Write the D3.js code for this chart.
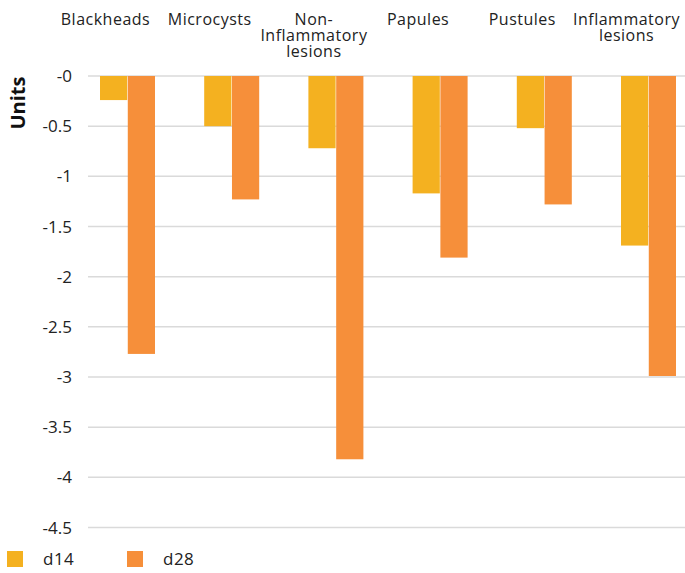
<!DOCTYPE html>
<html>
<head>
<meta charset="utf-8">
<script src="https://cdn.jsdelivr.net/npm/d3@7"></script>
<style>
  html, body { margin: 0; padding: 0; background: #fff; }
  svg { display: block; font-family: "Open Sans", "Noto Sans", sans-serif; }
</style>
</head>
<body>
<svg id="chart" width="685" height="573"></svg>
<script>
const categories = ["Blackheads", "Microcysts", "Non-Inflammatory lesions", "Papules", "Pustules", "Inflammatory lesions"];
const categoryLines = [["Blackheads"], ["Microcysts"], ["Non-", "Inflammatory", "lesions"], ["Papules"], ["Pustules"], ["Inflammatory", "lesions"]];
const seriesNames = ["d14", "d28"];
const d14 = [-0.24, -0.50, -0.72, -1.17, -0.52, -1.69];
const d28 = [-2.77, -1.23, -3.82, -1.81, -1.28, -2.99];
const tickValues = [0, -0.5, -1, -1.5, -2, -2.5, -3, -3.5, -4, -4.5];
const tickLabels = ["-0", "-0.5", "-1", "-1.5", "-2", "-2.5", "-3", "-3.5", "-4", "-4.5"];
const colors = ["#F4B120", "#F68F3A"];
const yTitle = "Units";

const svg = d3.select("#chart");
const seriesValues = [d14, d28];

const x = d3.scalePoint().domain(categories).range([127.5, 648.5]);
const x1 = d3.scaleBand().domain(seriesNames).range([-27.5, 27.5]).paddingInner(0.02);
const y = d3.scaleLinear().domain([0, -4.5]).range([76, 527.5]);

// gridlines
svg.append("g").selectAll("line").data(tickValues).join("line")
  .attr("x1", 88).attr("x2", 685)
  .attr("y1", d => y(d)).attr("y2", d => y(d))
  .attr("stroke", "#dadada").attr("stroke-width", 1.5);

// tick labels
svg.append("g").selectAll("text").data(tickValues).join("text")
  .attr("x", 72).attr("y", d => y(d)).attr("dy", "0.36em")
  .attr("text-anchor", "end").attr("font-size", 17).attr("fill", "#222")
  .text((d, i) => tickLabels[i]);

// axis title
svg.append("text")
  .attr("transform", "translate(25,103) rotate(-90)")
  .attr("text-anchor", "middle").attr("font-size", 20).attr("font-weight", "bold").attr("fill", "#111")
  .text(yTitle);

// bars
const rows = [];
categories.forEach((c, i) => seriesNames.forEach((s, j) => rows.push({ c, s, v: seriesValues[j][i], j })));
svg.append("g").selectAll("rect").data(rows).join("rect")
  .attr("x", d => x(d.c) + x1(d.s))
  .attr("width", x1.bandwidth())
  .attr("y", d => y(Math.max(0, d.v)))
  .attr("height", d => Math.abs(y(d.v) - y(0)))
  .attr("fill", d => colors[d.j]);

// category labels
const lab = svg.append("g").selectAll("text").data(categories).join("text")
  .attr("text-anchor", "middle").attr("font-size", 16).attr("letter-spacing", 0.5).attr("fill", "#222")
  .attr("transform", d => `translate(${x(d) - 22},25)`);
lab.selectAll("tspan").data((d, i) => categoryLines[i]).join("tspan")
  .attr("x", 0).attr("y", (d, k) => k * 16).text(d => d);

// legend
const leg = svg.append("g").selectAll("g").data(seriesNames).join("g")
  .attr("transform", (d, i) => `translate(${7 + i * 120},551)`);
leg.append("rect").attr("width", 16).attr("height", 16).attr("fill", (d, i) => colors[i]);
leg.append("text").attr("x", 36).attr("y", 14).attr("font-size", 17).attr("letter-spacing", 0.5).attr("fill", "#222").text(d => d);
</script>
</body>
</html>
